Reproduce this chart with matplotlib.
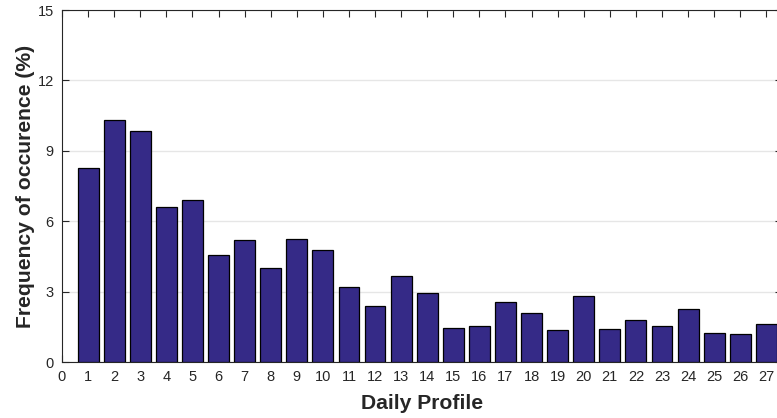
import matplotlib

matplotlib.use("Agg")
import matplotlib.pyplot as plt

plt.rcParams["font.family"] = ["Liberation Sans", "DejaVu Sans"]

profiles = list(range(1, 28))
frequency = [
    8.28, 10.33, 9.84, 6.61, 6.91, 4.57, 5.21, 4.00, 5.24, 4.77,
    3.19, 2.38, 3.67, 2.93, 1.44, 1.52, 2.55, 2.07, 1.35, 2.81,
    1.41, 1.77, 1.52, 2.24, 1.23, 1.18, 1.60,
]
x_ticks = list(range(0, 28))
y_ticks = [0, 3, 6, 9, 12, 15]

BAR_COLOR = "#352a87"
AXIS_COLOR = "#262626"

fig = plt.figure(figsize=(7.77, 4.18), dpi=100)
ax = fig.add_axes([62 / 777, 56 / 418, 720 / 777, 352 / 418])

ax.bar(profiles, frequency, width=0.8, color=BAR_COLOR,
       edgecolor="black", linewidth=0.9, zorder=3)

ax.set_xlim(0, 27.6)
ax.set_ylim(0, 15)
ax.set_xticks(x_ticks)
ax.set_yticks(y_ticks)
ax.grid(axis="y", color="#e6e6e6", linewidth=1.0, zorder=0)

ax.tick_params(direction="in", top=True, right=True, length=5,
               width=0.8, colors=AXIS_COLOR, labelsize=10.5, pad=6)
for spine in ax.spines.values():
    spine.set_color(AXIS_COLOR)
    spine.set_linewidth(0.8)

ax.set_xlabel("Daily Profile", fontsize=15.2, fontweight="bold",
              color=AXIS_COLOR, labelpad=7)
ax.set_ylabel("Frequency of occurence (%)", fontsize=15.2,
              fontweight="bold", color=AXIS_COLOR, labelpad=2)

fig.savefig("out.png", dpi=100)
